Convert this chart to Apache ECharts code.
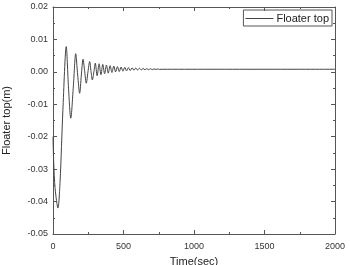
<!DOCTYPE html>
<html>
<head>
<meta charset="utf-8">
<script src="https://cdn.jsdelivr.net/npm/echarts@6/dist/echarts.min.js"></script>
<style>
  html, body { margin: 0; padding: 0; background: #fff; }
  #chart { width: 350px; height: 265px; }
</style>
</head>
<body>
<div id="chart"></div>
<script>
// 时间 (sec)
var times = [0, 5, 15, 35, 50, 70, 94, 110, 126, 145, 161, 175, 189, 201, 213, 225, 236, 248, 260, 270, 279, 290, 300,
  313, 327, 340, 353, 366, 379, 392, 405, 418, 431, 444, 457, 470, 483, 496, 509, 522, 535, 548, 561, 574, 587,
  600, 613, 626, 639, 652, 665, 678, 691, 704, 717, 730, 743, 756, 775, 2000];
// Floater top (m)
var floaterTop = [-0.020, -0.028, -0.036, -0.042, -0.034, -0.012, 0.0078, -0.005, -0.0143, -0.004, 0.0056, -0.001,
  -0.0066, -0.001, 0.0039, 0, -0.0035, 0, 0.0032, 0, -0.0025, 0, 0.0027,
  -0.0012, 0.0025, -0.0009, 0.0023, -0.0006, 0.0021, -0.0004, 0.0019, -0.0002, 0.0018, 0, 0.0016, 0.0001,
  0.0015, 0.0002, 0.0014, 0.0003, 0.0013, 0.0004, 0.00125, 0.0005, 0.0012,
  0.00055, 0.00112, 0.0006, 0.00106, 0.00064, 0.001, 0.00067, 0.00096, 0.0007, 0.00092, 0.00073, 0.00088, 0.00076, 0.0008, 0.0008];

var seriesName = 'Floater top';

var chart = echarts.init(document.getElementById('chart'));

var axisColor = '#555';
var font = 'Liberation Sans, Arial, sans-serif';

var data = times.map(function (t, i) { return [t, floaterTop[i]]; });

var option = {
  animation: false,
  backgroundColor: '#fff',
  textStyle: { fontFamily: font },
  grid: { left: 53, right: 15, top: 7, bottom: 31, containLabel: false, outerBoundsMode: 'none' },
  legend: {
    data: [seriesName],
    right: 18,
    top: 10,
    icon: 'rect',
    itemWidth: 28,
    itemHeight: 1,
    itemGap: 4,
    padding: [3, 3, 2, 2],
    borderColor: axisColor,
    borderWidth: 1,
    textStyle: { fontFamily: font, fontSize: 11, color: '#222', padding: [0, 0, 0, -2] }
  },
  xAxis: [{
    type: 'value',
    min: 0, max: 2000, interval: 500,
    name: 'Time(sec)',
    nameLocation: 'middle',
    nameGap: 22,
    nameTextStyle: { fontFamily: font, fontSize: 11, color: '#222' },
    axisLine: { onZero: false, lineStyle: { color: axisColor } },
    axisTick: { inside: true, length: 4, lineStyle: { color: axisColor } },
    minorTick: { show: true, splitNumber: 2, length: 2, lineStyle: { color: axisColor } },
    axisLabel: { fontFamily: font, fontSize: 9, color: '#333', margin: 8,
      formatter: function (v) { return String(v); } },
    splitLine: { show: false }
  }, {
    type: 'value',
    position: 'top',
    min: 0, max: 2000, interval: 500,
    axisLine: { onZero: false, lineStyle: { color: axisColor } },
    axisTick: { inside: true, length: 4, lineStyle: { color: axisColor } },
    minorTick: { show: true, splitNumber: 2, length: 2, lineStyle: { color: axisColor } },
    axisLabel: { show: false },
    splitLine: { show: false }
  }],
  yAxis: [{
    type: 'value',
    min: -0.05, max: 0.02, interval: 0.01,
    name: 'Floater top(m)',
    nameLocation: 'middle',
    nameGap: 41,
    nameTextStyle: { fontFamily: font, fontSize: 11, color: '#222' },
    axisLine: { show: true, onZero: false, lineStyle: { color: axisColor } },
    axisTick: { show: true, inside: true, length: 4, lineStyle: { color: axisColor } },
    minorTick: { show: true, splitNumber: 2, length: 2, lineStyle: { color: axisColor } },
    axisLabel: {
      fontFamily: font, fontSize: 9, color: '#333', margin: 5,
      formatter: function (v) { return v.toFixed(2); }
    },
    splitLine: { show: false }
  }, {
    type: 'value',
    position: 'right',
    min: -0.05, max: 0.02, interval: 0.01,
    axisLine: { show: true, onZero: false, lineStyle: { color: axisColor } },
    axisTick: { show: true, inside: true, length: 4, lineStyle: { color: axisColor } },
    minorTick: { show: true, splitNumber: 2, length: 2, lineStyle: { color: axisColor } },
    axisLabel: { show: false },
    splitLine: { show: false }
  }],
  series: [{
    name: seriesName,
    type: 'line',
    data: data,
    showSymbol: false,
    symbol: 'none',
    smooth: 0.3,
    lineStyle: { color: '#444', width: 1 },
    itemStyle: { color: '#444' }
  }]
};

chart.setOption(option);
</script>
</body>
</html>
